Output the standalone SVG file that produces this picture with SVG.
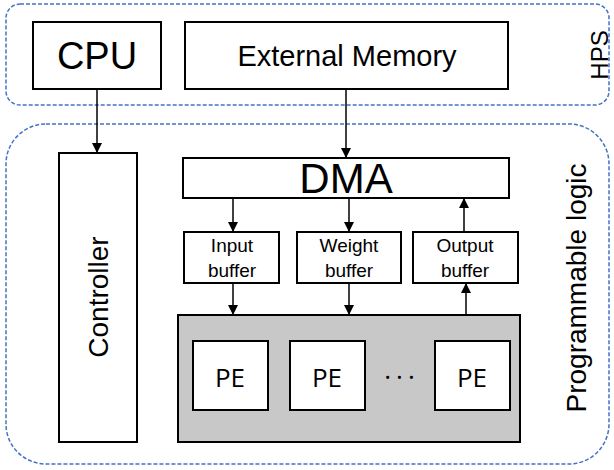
<svg xmlns="http://www.w3.org/2000/svg" width="614" height="470" viewBox="0 0 614 470">
<defs>
<marker id="ah" viewBox="0 0 10 10" refX="10" refY="5" markerWidth="10" markerHeight="10" markerUnits="userSpaceOnUse" orient="auto">
<path d="M0,0 L10,5 L0,10 z" fill="#000"/>
</marker>
<style>
.grp{fill:none;stroke:#4472C4;stroke-width:1.5;stroke-dasharray:4 2}
.box{fill:#fff;stroke:#000;stroke-width:2}
.t{font-family:"Liberation Sans",Arial,sans-serif;fill:#000;text-anchor:middle}
.pe{font-family:"Open Sans","Noto Sans",sans-serif;fill:#000;text-anchor:middle}
.c{stroke:#000;stroke-width:1.5;fill:none;marker-end:url(#ah)}
</style>
</defs>
<rect width="614" height="470" fill="#fff"/>
<g id="hps">
<rect class="grp" x="6" y="4" width="603" height="101" rx="14"/>
<text class="t" font-size="24" transform="translate(608,55) rotate(-90)">HPS</text>
</g>
<g id="pl">
<rect class="grp" x="6" y="124" width="603" height="340" rx="40"/>
<text class="t" font-size="28" transform="translate(586,288) rotate(-90)">Programmable logic</text>
</g>
<g id="cpu">
<rect class="box" x="33" y="22" width="128" height="67"/>
<text class="t" font-size="38" x="97" y="69">CPU</text>
</g>
<g id="extmem">
<rect class="box" x="185" y="22" width="323" height="67"/>
<text class="t" font-size="29" x="347" y="66">External Memory</text>
</g>
<g id="controller">
<rect class="box" x="59" y="153" width="78" height="289"/>
<text class="t" font-size="28" transform="translate(108,297) rotate(-90)">Controller</text>
</g>
<g id="dma">
<rect class="box" x="183" y="158" width="326" height="40"/>
<text class="t" font-size="42" x="346" y="193">DMA</text>
</g>
<g id="inbuf">
<rect class="box" x="184" y="232" width="95" height="51"/>
<text class="t" font-size="19" x="232" y="252">Input</text>
<text class="t" font-size="19" x="232" y="277">buffer</text>
</g>
<g id="wbuf">
<rect class="box" x="297" y="232" width="104" height="51"/>
<text class="t" font-size="19" x="349" y="252">Weight</text>
<text class="t" font-size="19" x="349" y="277">buffer</text>
</g>
<g id="obuf">
<rect class="box" x="413" y="232" width="105" height="51"/>
<text class="t" font-size="19" x="465" y="252">Output</text>
<text class="t" font-size="19" x="465" y="277">buffer</text>
</g>
<g id="pearray">
<rect x="178" y="315" width="342" height="127" fill="#c8c8c8" stroke="#000" stroke-width="2"/>
</g>
<g id="pe1">
<rect class="box" x="193" y="341" width="75" height="69"/>
<text class="pe" font-size="26" x="230" y="387">PE</text>
</g>
<g id="pe2">
<rect class="box" x="290" y="341" width="75" height="69"/>
<text class="pe" font-size="26" x="327" y="387">PE</text>
</g>
<g id="dots">
<text class="pe" font-size="26" x="402" y="386" letter-spacing="5">···</text>
</g>
<g id="pe3">
<rect class="box" x="435" y="341" width="75" height="69"/>
<text class="pe" font-size="26" x="472" y="387">PE</text>
</g>
<g id="connectors">
<line class="c" x1="97" y1="89" x2="97" y2="153"/>
<line class="c" x1="346" y1="89" x2="346" y2="158"/>
<line class="c" x1="233" y1="198" x2="233" y2="232"/>
<line class="c" x1="349" y1="198" x2="349" y2="232"/>
<line class="c" x1="464" y1="232" x2="464" y2="198"/>
<line class="c" x1="233" y1="283" x2="233" y2="315"/>
<line class="c" x1="349" y1="283" x2="349" y2="315"/>
<line class="c" x1="466" y1="315" x2="466" y2="283"/>
</g>
</svg>
